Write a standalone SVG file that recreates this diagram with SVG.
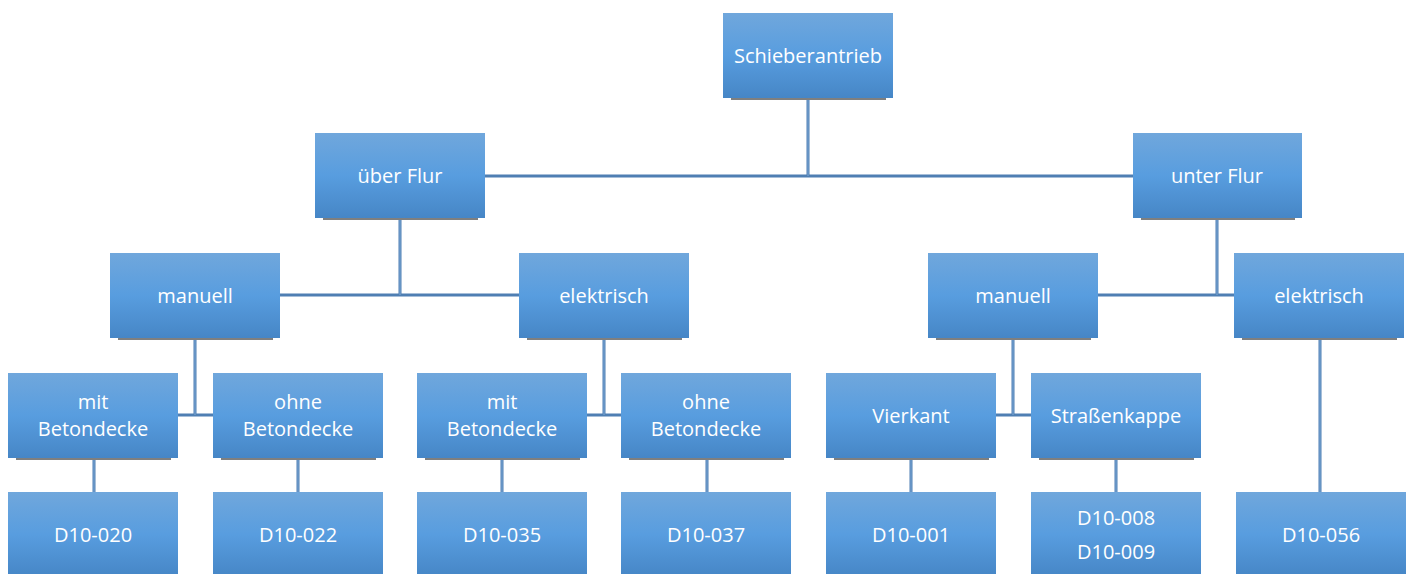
<svg xmlns="http://www.w3.org/2000/svg" width="1408" height="574" viewBox="0 0 1408 574">
<defs>
<linearGradient id="g" x1="0" y1="0" x2="0" y2="1">
<stop offset="0" stop-color="#70a7dc"/>
<stop offset="0.5" stop-color="#589ddf"/>
<stop offset="1" stop-color="#4686c6"/>
</linearGradient>
</defs>
<style>
.box{fill:url(#g);}
.sh{fill:#7f7f7f;}
.t{font-family:"Open Sans","Liberation Sans",sans-serif;font-size:20px;fill:#ffffff;text-anchor:middle;dominant-baseline:central;}
.c{fill:none;stroke:#4f7fb3;stroke-width:3;}
.ci{fill:none;stroke:#7ea9d6;stroke-width:1;}
</style>
<g id="connectors">
<path class="c" d="M808 98V176M485 176H1133M400 218V295M280 295H519M1217 218V295M1098 295H1234M195 338V415M178 415H213M604 338V415M587 415H621M1013 338V415M996 415H1031M94 458V492M298 458V492M502 458V492M707 458V492M911 458V492M1116 458V492M1320 338V492"/>
<path class="ci" d="M808 98V176M400 218V295M1217 218V295M195 338V415M604 338V415M1013 338V415M94 458V492M298 458V492M502 458V492M707 458V492M911 458V492M1116 458V492M1320 338V492"/>
</g>
<g id="n-root"><rect class="sh" x="731" y="98" width="155" height="2"/><rect class="box" x="723" y="13" width="170" height="85"/><text class="t" x="808" y="55">Schieberantrieb</text></g>
<g id="n-ueber"><rect class="sh" x="323" y="218" width="155" height="2"/><rect class="box" x="315" y="133" width="170" height="85"/><text class="t" x="400" y="175">über Flur</text></g>
<g id="n-unter"><rect class="sh" x="1141" y="218" width="154" height="2"/><rect class="box" x="1133" y="133" width="169" height="85"/><text class="t" x="1217" y="175">unter Flur</text></g>
<g id="n-man1"><rect class="sh" x="118" y="338" width="155" height="2"/><rect class="box" x="110" y="253" width="170" height="85"/><text class="t" x="195" y="295">manuell</text></g>
<g id="n-ele1"><rect class="sh" x="527" y="338" width="155" height="2"/><rect class="box" x="519" y="253" width="170" height="85"/><text class="t" x="604" y="295">elektrisch</text></g>
<g id="n-man2"><rect class="sh" x="936" y="338" width="155" height="2"/><rect class="box" x="928" y="253" width="170" height="85"/><text class="t" x="1013" y="295">manuell</text></g>
<g id="n-ele2"><rect class="sh" x="1242" y="338" width="155" height="2"/><rect class="box" x="1234" y="253" width="170" height="85"/><text class="t" x="1319" y="295">elektrisch</text></g>
<g id="n-mit1"><rect class="sh" x="16" y="458" width="155" height="2"/><rect class="box" x="8" y="373" width="170" height="85"/><text class="t" x="93" y="401">mit</text><text class="t" x="93" y="428">Betondecke</text></g>
<g id="n-ohne1"><rect class="sh" x="221" y="458" width="155" height="2"/><rect class="box" x="213" y="373" width="170" height="85"/><text class="t" x="298" y="401">ohne</text><text class="t" x="298" y="428">Betondecke</text></g>
<g id="n-mit2"><rect class="sh" x="425" y="458" width="155" height="2"/><rect class="box" x="417" y="373" width="170" height="85"/><text class="t" x="502" y="401">mit</text><text class="t" x="502" y="428">Betondecke</text></g>
<g id="n-ohne2"><rect class="sh" x="629" y="458" width="155" height="2"/><rect class="box" x="621" y="373" width="170" height="85"/><text class="t" x="706" y="401">ohne</text><text class="t" x="706" y="428">Betondecke</text></g>
<g id="n-vier"><rect class="sh" x="834" y="458" width="155" height="2"/><rect class="box" x="826" y="373" width="170" height="85"/><text class="t" x="911" y="415">Vierkant</text></g>
<g id="n-strasse"><rect class="sh" x="1039" y="458" width="155" height="2"/><rect class="box" x="1031" y="373" width="170" height="85"/><text class="t" x="1116" y="415">Straßenkappe</text></g>
<g id="n-d020"><rect class="box" x="8" y="492" width="170" height="85"/><text class="t" x="93" y="534">D10-020</text></g>
<g id="n-d022"><rect class="box" x="213" y="492" width="170" height="85"/><text class="t" x="298" y="534">D10-022</text></g>
<g id="n-d035"><rect class="box" x="417" y="492" width="170" height="85"/><text class="t" x="502" y="534">D10-035</text></g>
<g id="n-d037"><rect class="box" x="621" y="492" width="170" height="85"/><text class="t" x="706" y="534">D10-037</text></g>
<g id="n-d001"><rect class="box" x="826" y="492" width="170" height="85"/><text class="t" x="911" y="534">D10-001</text></g>
<g id="n-d008"><rect class="box" x="1031" y="492" width="170" height="85"/><text class="t" x="1116" y="517">D10-008</text><text class="t" x="1116" y="551">D10-009</text></g>
<g id="n-d056"><rect class="box" x="1236" y="492" width="170" height="85"/><text class="t" x="1321" y="534">D10-056</text></g>
</svg>
